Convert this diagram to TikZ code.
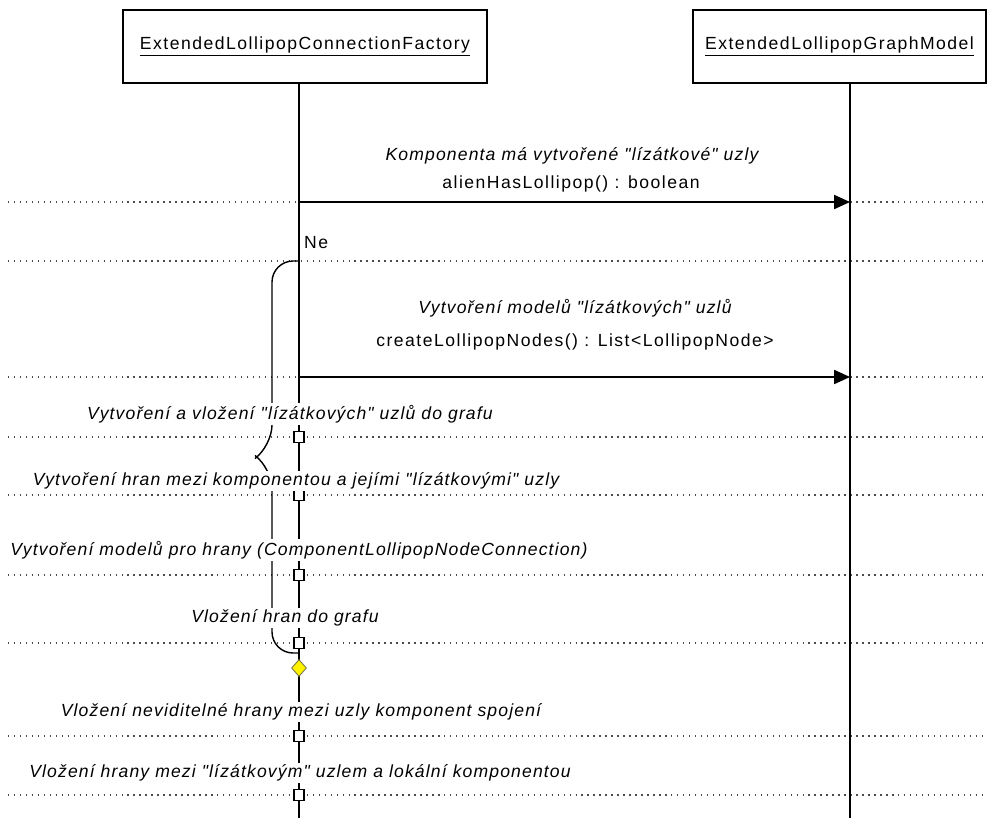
\documentclass[tikz,border=0pt]{standalone}
\usepackage{fontspec}
\setmainfont{Liberation Sans}[Ligatures=TeXOff, LetterSpace=8.5,
  ItalicFeatures={LetterSpace=6.5}]
\usetikzlibrary{positioning,shapes.geometric,arrows.meta}

\begin{document}
\begin{tikzpicture}[x=0.02cm, y=-0.02cm,
    font=\fontsize{10}{12}\selectfont,
    object/.style={draw, line width=0.7pt, minimum height=1.46cm, inner sep=0pt},
    lifeline/.style={line width=0.8pt},
    dotline/.style={line width=0.8pt, black!70, dash pattern=on 0.8pt off 2.6pt},
    call/.style={line width=0.8pt, -{Triangle[length=9pt, width=8pt]}},
    act/.style={draw, fill=white, line width=0.8pt, minimum width=0.2cm, minimum height=0.22cm, inner sep=0pt},
    note/.style={font=\fontsize{10}{12}\selectfont\itshape, fill=white, inner sep=1pt},
    sig/.style={fill=white, inner sep=1pt}]

    \useasboundingbox (0,0) rectangle (987,818);

    % the two objects
    \node[object, minimum width=7.28cm] (factory) at (305,46.5) {\underline{ExtendedLollipopConnectionFactory}};
    \node[object, minimum width=5.86cm] (model) at (839.5,46.5) {\underline{ExtendedLollipopGraphModel}};
    \coordinate (fend) at (299,818);
    \coordinate (mend) at (850,818);

    % dotted separators
    \foreach \y in {202,261,377,437,495,575,643,736,795}
      \draw[dotline] (8,\y) -- (987,\y);

    % lifelines
    \draw[lifeline] (factory.south -| fend) -- (fend);
    \draw[lifeline] (model.south -| mend) -- (mend);

    % calls to the graph model
    \coordinate (c1) at (299,202);
    \coordinate (r1) at (850,202);
    \coordinate (c2) at (299,377);
    \coordinate (r2) at (850,377);
    \draw[call] (c1) -- (r1);
    \draw[call] (c2) -- (r2);

    % branch "Ne"
    \coordinate (b1) at (299,261);
    \coordinate (b2) at (299,653);
    \coordinate (tip) at (257,457);
    \draw[lifeline, rounded corners=12pt] (b1) -- (272,261) -- (272,446) -- (tip);
    \draw[lifeline, rounded corners=12pt] (tip) -- (272,468) -- (272,653) -- (b2);

    % activations on the factory lifeline
    \foreach \y/\n in {437/a1,495/a2,575/a3,643/a4,736/a5,795/a6}
      \node[act] (\n) at (299,\y) {};
    \node[diamond, draw=black!60!yellow, fill=yellow, line width=0.5pt, inner sep=0pt,
          minimum width=0.3cm, minimum height=0.34cm] (merge) at (299,668) {};

    % texts
    \node[note] (t1) at (572,156) {Komponenta má vytvořené "lízátkové" uzly};
    \node[sig] (s1) at (571,184) {alienHasLollipop() : boolean};
    \node[anchor=west, inner sep=1pt] (ne) at (302,243) {Ne};
    \node[note] (t2) at (575,308) {Vytvoření modelů "lízátkových" uzlů};
    \node[sig] (s2) at (575,342) {createLollipopNodes() : List<LollipopNode>};
    \node[note] (t3) at (290,414) {Vytvoření a vložení "lízátkových" uzlů do grafu};
    \node[note] (t4) at (296,481) {Vytvoření hran mezi komponentou a jejími "lízátkovými" uzly};
    \node[note] (t5) at (299,550) {Vytvoření modelů pro hrany (ComponentLollipopNodeConnection)};
    \node[note] (t6) at (285,618) {Vložení hran do grafu};
    \node[note] (t7) at (301,712) {Vložení neviditelné hrany mezi uzly komponent spojení};
    \node[note] (t8) at (300,773) {Vložení hrany mezi "lízátkovým" uzlem a lokální komponentou};

\end{tikzpicture}
\end{document}
